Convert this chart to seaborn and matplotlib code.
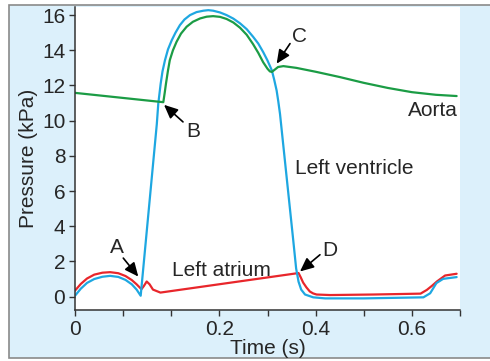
import numpy as np
import pandas as pd
import matplotlib
matplotlib.use("Agg")
import matplotlib.pyplot as plt
import seaborn as sns
from matplotlib.patches import Rectangle

# time (s) and pressure (kPa)
atrium_t = [0.000, 0.012, 0.025, 0.040, 0.057, 0.073, 0.090, 0.105, 0.118, 0.128, 0.138,
            0.143, 0.149, 0.155, 0.162, 0.1775, 0.4645, 0.469, 0.474, 0.481, 0.488, 0.495,
            0.502, 0.530, 0.620, 0.718, 0.731, 0.742, 0.752, 0.769, 0.793]
atrium_p = [0.34, 0.72, 1.03, 1.25, 1.36, 1.39, 1.33, 1.17, 0.94, 0.70, 0.42,
            0.60, 0.86, 0.70, 0.40, 0.23, 1.34, 1.10, 0.80, 0.52, 0.29, 0.18,
            0.12, 0.09, 0.12, 0.17, 0.38, 0.62, 0.86, 1.20, 1.30]

ventricle_t = [0.000, 0.012, 0.025, 0.040, 0.057, 0.073, 0.090, 0.105, 0.118, 0.128, 0.1365,
               0.170, 0.173, 0.178, 0.1818, 0.187, 0.1932, 0.201, 0.2088, 0.218, 0.2275,
               0.239, 0.2525, 0.267, 0.277, 0.287, 0.3013, 0.315, 0.329, 0.343, 0.3568,
               0.370, 0.3809, 0.391, 0.400, 0.409, 0.4139, 0.419, 0.4224, 0.426,
               0.4535, 0.4595, 0.4645, 0.470, 0.478, 0.495, 0.520, 0.600, 0.724, 0.738,
               0.751, 0.765, 0.793]
ventricle_p = [0.05, 0.45, 0.78, 1.00, 1.13, 1.18, 1.12, 0.95, 0.70, 0.40, 0.05,
               9.81, 10.95, 12.10, 12.80, 13.44, 14.05, 14.57, 15.00, 15.43, 15.75,
               16.00, 16.17, 16.25, 16.28, 16.25, 16.15, 16.00, 15.80, 15.53, 15.20,
               14.77, 14.38, 13.90, 13.42, 12.86, 12.33, 11.71, 11.10, 10.38,
               3.20, 1.60, 0.85, 0.40, 0.12, -0.04, -0.10, -0.10, -0.04, 0.19,
               0.77, 1.01, 1.11]

aorta_t = [0.000, 0.1835, 0.1865, 0.189, 0.1932, 0.197, 0.2035, 0.211, 0.2203, 0.232,
           0.245, 0.260, 0.2736, 0.287, 0.3013, 0.315, 0.329, 0.343, 0.3568, 0.370,
           0.3809, 0.391, 0.400, 0.405, 0.409, 0.416, 0.422, 0.433, 0.460, 0.500,
           0.550, 0.600, 0.650, 0.700, 0.750, 0.793]
aorta_p = [11.58, 11.05, 11.60, 12.10, 12.85, 13.44, 14.00, 14.48, 14.95, 15.34,
           15.62, 15.81, 15.91, 15.94, 15.90, 15.78, 15.58, 15.28, 14.88, 14.35,
           13.85, 13.32, 12.95, 12.80, 12.77, 12.92, 13.05, 13.10, 13.00, 12.78,
           12.48, 12.15, 11.86, 11.62, 11.47, 11.40]

x_ticks = [0.0, 0.1, 0.2, 0.3, 0.4, 0.5, 0.6, 0.7, 0.8]
x_tick_labels = ["0", "", "", "0.2", "", "0.4", "", "0.6", ""]
y_ticks = [0, 2, 4, 6, 8, 10, 12, 14, 16]

BLUE = "#1ea7e1"
GREEN = "#1b9c45"
RED = "#e8262b"

sns.set_style("ticks")
plt.rcParams["font.family"] = ["Liberation Sans", "DejaVu Sans"]

fig = plt.figure(figsize=(4.9, 3.61), dpi=100, facecolor="white")
fig.patches.append(Rectangle((9 / 490, 1 - 358 / 361), 500 / 490, 353 / 361,
                             transform=fig.transFigure, facecolor="#dcf0fb",
                             edgecolor="#8a8a8a", lw=1.2, zorder=-10))
ax = fig.add_axes([75 / 490, 1 - 310 / 361, 385 / 490, 303 / 361])
ax.set_facecolor("white")

atrium = pd.DataFrame({"t": atrium_t, "p": atrium_p})
ventricle = pd.DataFrame({"t": ventricle_t, "p": ventricle_p})
aorta = pd.DataFrame({"t": aorta_t, "p": aorta_p})

sns.lineplot(data=atrium, x="t", y="p", ax=ax, color=RED, lw=1.6, sort=False, estimator=None)
sns.lineplot(data=ventricle, x="t", y="p", ax=ax, color=BLUE, lw=1.6, sort=False, estimator=None)
sns.lineplot(data=aorta, x="t", y="p", ax=ax, color=GREEN, lw=1.6, sort=False, estimator=None)

fs = 15
ax.set_xlim(0, 0.8)
ax.set_ylim(-0.76, 16.46)
ax.set_xticks(x_ticks)
ax.set_xticklabels(x_tick_labels)
ax.set_yticks(y_ticks)
ax.tick_params(labelsize=fs, length=4, width=1, color="#333333", pad=3)
ax.set_xlabel("Time (s)", fontsize=fs, labelpad=0)
ax.set_ylabel("Pressure (kPa)", fontsize=fs, labelpad=3)
for side in ["top", "right"]:
    ax.spines[side].set_visible(False)
for side in ["left", "bottom"]:
    ax.spines[side].set_linewidth(1.1)
    ax.spines[side].set_color("#333333")

ax.text(0.796, 10.29, "Aorta", fontsize=fs, ha="right", va="baseline")
ax.text(0.457, 6.95, "Left ventricle", fontsize=fs, ha="left", va="baseline")
ax.text(0.201, 1.18, "Left atrium", fontsize=fs, ha="left", va="baseline")

letters = [("A", (0.0866, 2.48), (0.1003, 2.19), (0.1315, 1.14)),
           ("B", (0.2458, 9.05), (0.2244, 9.93), (0.185, 10.90)),
           ("C", (0.466, 14.48), (0.4468, 14.38), (0.419, 13.24)),
           ("D", (0.530, 2.33), (0.509, 2.38), (0.4675, 1.43))]
for name, pos, start, tip in letters:
    ax.text(pos[0], pos[1], name, fontsize=fs, ha="center", va="baseline")
    ax.annotate("", xy=tip, xytext=start,
                arrowprops=dict(arrowstyle="-|>,head_length=0.55,head_width=0.25",
                                color="black", lw=1.2, shrinkA=0, shrinkB=0),
                fontsize=fs)

fig.savefig("out.png", dpi=100, facecolor=fig.get_facecolor())
